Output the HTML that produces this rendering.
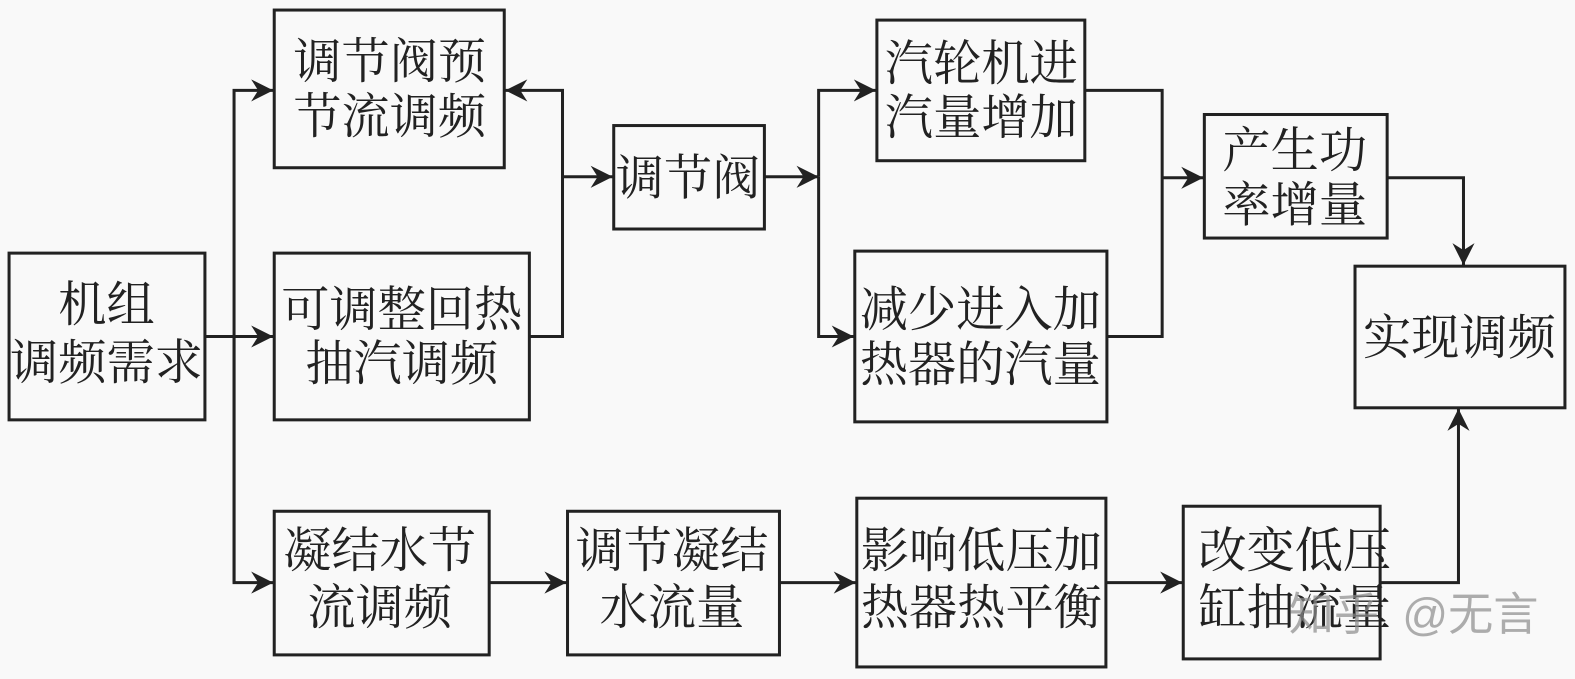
<!DOCTYPE html>
<html lang="zh">
<head>
<meta charset="utf-8">
<style>
html,body{margin:0;padding:0;background:#f9f9f9;width:1575px;height:679px;overflow:hidden}
svg{display:block}
.t{font-family:"Liberation Serif","Noto Serif CJK SC",serif;font-size:48px;fill:#222;text-anchor:middle;dominant-baseline:central}
.b{fill:none;stroke:#222;stroke-width:3}
.l{fill:none;stroke:#222;stroke-width:3}
.wm{font-family:"Liberation Sans","Noto Sans CJK SC",sans-serif;font-size:45px;fill:#8c8c8c;fill-opacity:.7;dominant-baseline:central}
</style>
</head>
<body>
<svg width="1575" height="679" viewBox="0 0 1568 676" xmlns="http://www.w3.org/2000/svg">
<defs>
<marker id="a" markerUnits="userSpaceOnUse" markerWidth="26" markerHeight="26" refX="22" refY="12" orient="auto">
<path d="M0 1 L22 12 L0 23 L7 12 Z" fill="#222"/>
</marker>
</defs>
<rect width="1568" height="676" fill="#f9f9f9"/>

<!-- connectors -->
<path class="l" d="M204 335H272" marker-end="url(#a)"/>
<path class="l" d="M233 580V90H272" marker-end="url(#a)"/>
<path class="l" d="M233 335V580H272" marker-end="url(#a)"/>
<path class="l" d="M527 335H560V90H503" marker-end="url(#a)"/>
<path class="l" d="M560 176H610" marker-end="url(#a)"/>
<path class="l" d="M761 176H815" marker-end="url(#a)"/>
<path class="l" d="M815 176V90H872" marker-end="url(#a)"/>
<path class="l" d="M815 176V335H850" marker-end="url(#a)"/>
<path class="l" d="M1080 90H1157V335H1102"/>
<path class="l" d="M1157 177H1198" marker-end="url(#a)"/>
<path class="l" d="M1381 177H1457V264" marker-end="url(#a)"/>
<path class="l" d="M1374 580H1452V407" marker-end="url(#a)"/>
<path class="l" d="M487 580H564" marker-end="url(#a)"/>
<path class="l" d="M776 580H852" marker-end="url(#a)"/>
<path class="l" d="M1101 580H1177" marker-end="url(#a)"/>

<!-- boxes -->
<rect class="b" x="9" y="252" width="195" height="166"/>
<rect class="b" x="273" y="10" width="229" height="157"/>
<rect class="b" x="273" y="252" width="254" height="166"/>
<rect class="b" x="273" y="509" width="214" height="143"/>
<rect class="b" x="611" y="125" width="150" height="103"/>
<rect class="b" x="565" y="509" width="211" height="143"/>
<rect class="b" x="873" y="20" width="207" height="140"/>
<rect class="b" x="851" y="250" width="251" height="170"/>
<rect class="b" x="853" y="496" width="248" height="168"/>
<rect class="b" x="1199" y="114" width="182" height="123"/>
<rect class="b" x="1178" y="504" width="196" height="152"/>
<rect class="b" x="1349" y="265" width="209" height="141"/>

<!-- labels -->
<g transform="translate(0 2)">
<text class="t" x="106" y="302">机组</text>
<text class="t" x="106" y="360">调频需求</text>
<text class="t" x="388" y="60">调节阀预</text>
<text class="t" x="388" y="115">节流调频</text>
<text class="t" x="400" y="307">可调整回热</text>
<text class="t" x="400" y="361">抽汽调频</text>
<text class="t" x="378" y="547">凝结水节</text>
<text class="t" x="378" y="604">流调频</text>
<text class="t" x="685" y="176">调节阀</text>
<text class="t" x="669" y="547">调节凝结</text>
<text class="t" x="669" y="604">水流量</text>
<text class="t" x="977" y="62">汽轮机进</text>
<text class="t" x="977" y="116">汽量增加</text>
<text class="t" x="976" y="307">减少进入加</text>
<text class="t" x="976" y="362">热器的汽量</text>
<text class="t" x="977" y="547">影响低压加</text>
<text class="t" x="977" y="604">热器热平衡</text>
<text class="t" x="1289" y="149">产生功</text>
<text class="t" x="1289" y="203">率增量</text>
<text class="t" x="1289" y="547">改变低压</text>
<text class="t" x="1289" y="604">缸抽流量</text>
<text class="t" x="1453" y="335">实现调频</text>
</g>

<!-- watermark -->
<text class="wm" x="1283" y="612">知乎</text>
<text class="wm" x="1396" y="612">@无言</text>
</svg>
</body>
</html>
